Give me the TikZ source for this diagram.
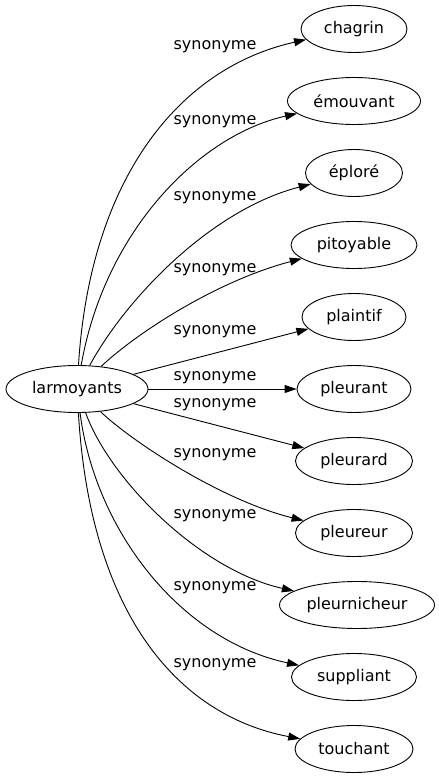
\documentclass[tikz,border=0pt]{standalone}
\usepackage{fontspec}
\setmainfont{DejaVu Sans}
\usetikzlibrary{arrows.meta,shapes.geometric}

\begin{document}
\begin{tikzpicture}[x=1pt,y=-1pt,
  word/.style={ellipse,draw,line width=0.9pt,inner xsep=0pt,inner ysep=0pt,
    minimum height=47pt,font=\fontsize{16}{19}\selectfont},
  rel/.style={font=\fontsize{16}{19}\selectfont},
  syn/.style={line width=0.9pt,-{Triangle[length=12pt,width=8pt]}}]
\useasboundingbox (0,0) rectangle (439,779);
%
\node[word,minimum width=142pt] (larmoyants) at (77,389) {larmoyants};
%
\node[word,minimum width=106pt] (chagrin)      at (354,29)  {chagrin};
\node[word,minimum width=133pt] (emouvant)     at (354,101) {émouvant};
\node[word,minimum width=97pt]  (eplore)       at (354,173) {éploré};
\node[word,minimum width=126pt] (pitoyable)    at (354,245) {pitoyable};
\node[word,minimum width=104pt] (plaintif)     at (354,317) {plaintif};
\node[word,minimum width=114pt] (pleurant)     at (354,389) {pleurant};
\node[word,minimum width=117pt] (pleurard)     at (354,461) {pleurard};
\node[word,minimum width=117pt] (pleureur)     at (354,533) {pleureur};
\node[word,minimum width=155pt] (pleurnicheur) at (357,605) {pleurnicheur};
\node[word,minimum width=125pt] (suppliant)    at (354,677) {suppliant};
\node[word,minimum width=118pt] (touchant)     at (354,749) {touchant};
%
\draw[syn] (larmoyants) .. controls (90,180) and (178,68) .. (chagrin);
\draw[syn] (larmoyants) .. controls (105,230) and (200,135) .. (emouvant);
\draw[syn] (larmoyants) .. controls (125,300) and (210,210) .. (eplore);
\draw[syn] (larmoyants) .. controls (140,330) and (220,280) .. (pitoyable);
\draw[syn] (larmoyants) -- (plaintif);
\draw[syn] (larmoyants) -- (pleurant);
\draw[syn] (larmoyants) -- (pleurard);
\draw[syn] (larmoyants) .. controls (130,440) and (220,500) .. (pleureur);
\draw[syn] (larmoyants) .. controls (110,480) and (200,570) .. (pleurnicheur);
\draw[syn] (larmoyants) .. controls (95,530) and (180,640) .. (suppliant);
\draw[syn] (larmoyants) .. controls (90,610) and (175,715) .. (touchant);
%
\node[rel] (s1)  at (215,47)  {synonyme};
\node[rel] (s2)  at (215,122) {synonyme};
\node[rel] (s3)  at (215,198) {synonyme};
\node[rel] (s4)  at (215,270) {synonyme};
\node[rel] (s5)  at (215,332) {synonyme};
\node[rel] (s6)  at (215,378) {synonyme};
\node[rel] (s7)  at (215,405) {synonyme};
\node[rel] (s8)  at (215,455) {synonyme};
\node[rel] (s9)  at (215,516) {synonyme};
\node[rel] (s10) at (215,588) {synonyme};
\node[rel] (s11) at (215,665) {synonyme};
\end{tikzpicture}
\end{document}
